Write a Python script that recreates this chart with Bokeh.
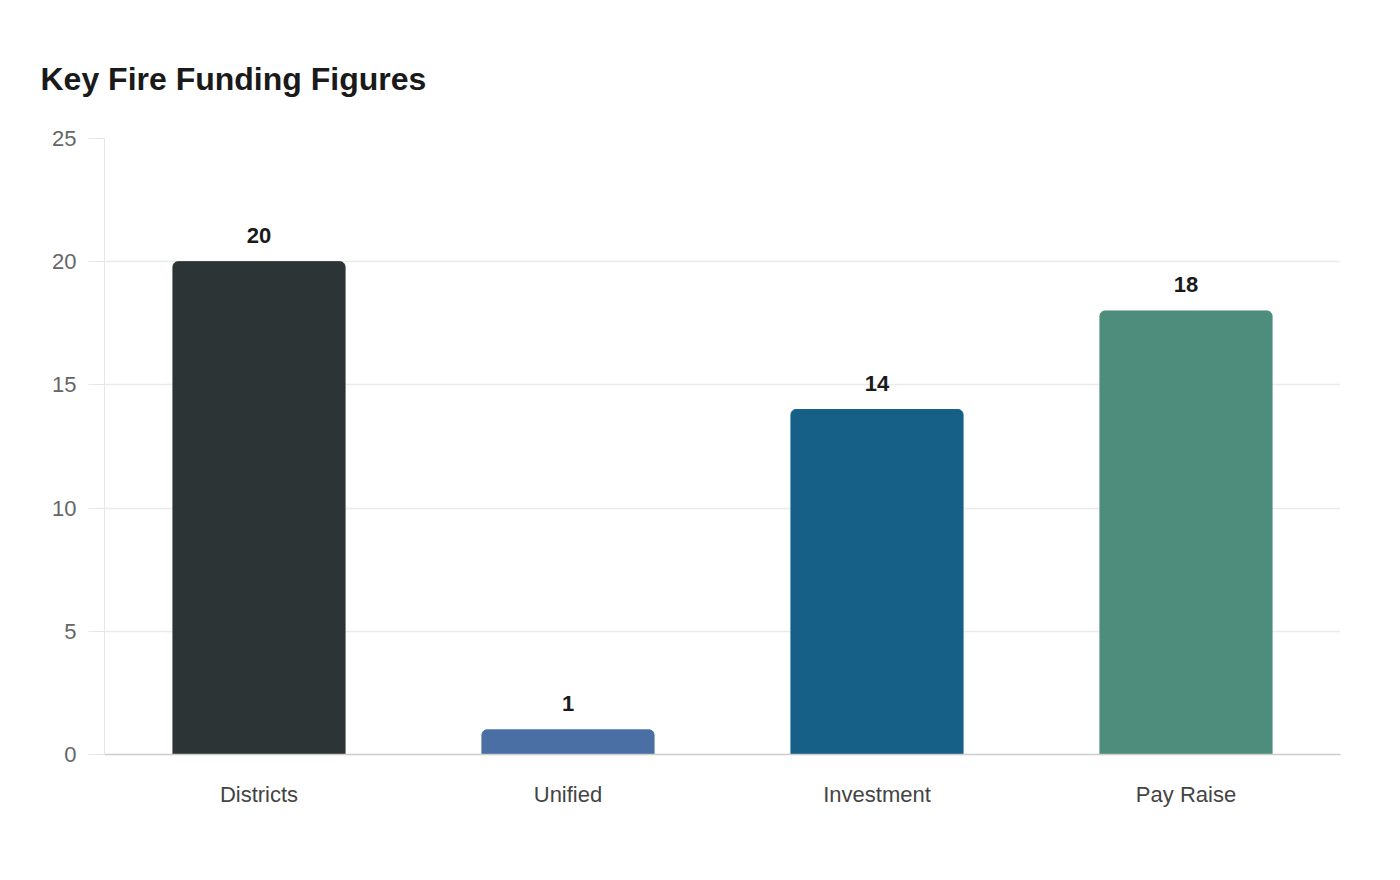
from bokeh.plotting import figure
from bokeh.models import ColumnDataSource, FixedTicker, Title
from bokeh.core.properties import value
from bokeh.embed import file_html
from bokeh.resources import INLINE

categories = ["Districts", "Unified", "Investment", "Pay Raise"]
values = [20, 1, 14, 18]
colors = ["#2d3436", "#4a6fa5", "#166088", "#4e8d7c"]
labels = [str(v) for v in values]
y_ticks = [0, 5, 10, 15, 20, 25]

src = ColumnDataSource(dict(cat=categories, val=values, color=colors, label=labels))

p = figure(width=1400, height=880, x_range=categories, y_range=(0, 25),
           output_backend="svg", toolbar_location=None,
           min_border_left=104, min_border_right=60, min_border_top=138, min_border_bottom=126)
p.outline_line_color = None
p.background_fill_color = "white"
p.border_fill_color = "white"
p.title = None

main_title = Title(text="Key Fire Funding Figures", text_font="Liberation Sans",
                   text_font_size="32px", text_font_style="bold", text_color="#1a1a1a",
                   align="left", offset=-64, standoff=84)
p.add_layout(main_title, "above")

p.vbar(x="cat", top="val", width=0.557, color="color", source=src,
       border_radius=(5, 5, 0, 0))
p.text(x="cat", y="val", text="label", source=src, text_align="center",
       text_baseline="bottom", y_offset=-19, text_font=value("Liberation Sans"),
       text_font_size="22px", text_font_style="bold", text_color="#1a1a1a")

p.yaxis.ticker = FixedTicker(ticks=y_ticks)
p.yaxis.axis_line_color = "#e6e6e6"
p.yaxis.major_tick_line_color = "#e6e6e6"
p.yaxis.major_tick_out = 16
p.yaxis.major_tick_in = 0
p.yaxis.minor_tick_line_color = None
p.yaxis.major_label_text_font = "Liberation Sans"
p.yaxis.major_label_text_font_size = "22px"
p.yaxis.major_label_text_color = "#666666"
p.yaxis.major_label_standoff = 12

p.xaxis.axis_line_color = "#cccccc"
p.xaxis.axis_line_width = 1.5
p.xaxis.major_tick_line_color = None
p.xaxis.minor_tick_line_color = None
p.xaxis.major_label_text_font = "Liberation Sans"
p.xaxis.major_label_text_font_size = "22px"
p.xaxis.major_label_text_color = "#444444"
p.xaxis.major_label_standoff = 21

p.xgrid.grid_line_color = None
p.ygrid.grid_line_color = "#ebebeb"
p.ygrid.grid_line_width = 1.5

open("out.html", "w").write(file_html(p, INLINE))
